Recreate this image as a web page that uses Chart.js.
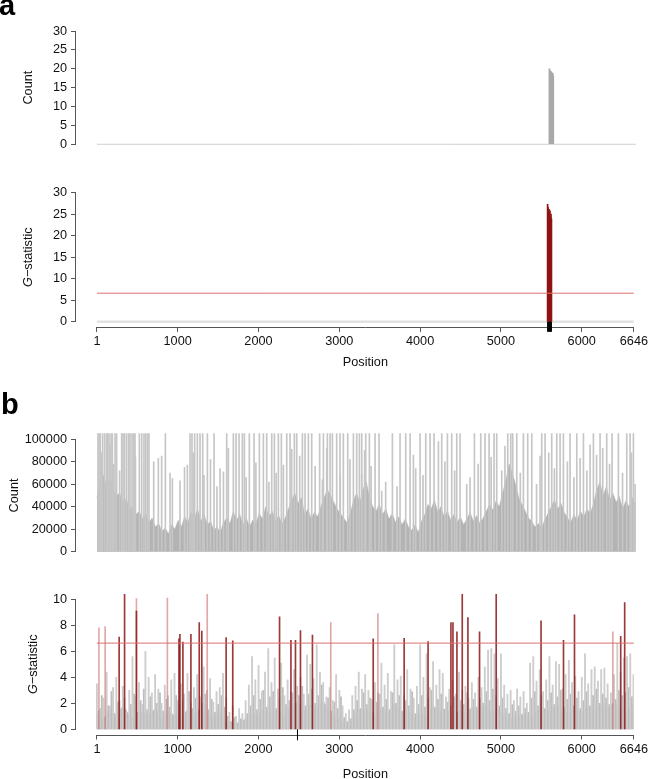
<!DOCTYPE html>
<html>
<head>
<meta charset="utf-8">
<script src="https://cdn.jsdelivr.net/npm/chart.js@4.4.1/dist/chart.umd.min.js"></script>
<style>
  html, body { margin: 0; padding: 0; background: #fff; }
  #wrap { position: relative; width: 650px; height: 779px; overflow: hidden; }
  canvas { position: absolute; left: 0; top: 0; }
  .tag { position: absolute; font: bold 29px 'Liberation Sans', Arial, sans-serif; line-height: 29px; color: #000; }
</style>
</head>
<body>
<div id="wrap">
  <canvas id="countA" width="650" height="779"></canvas>
  <canvas id="gA" width="650" height="779"></canvas>
  <canvas id="countB" width="650" height="779"></canvas>
  <canvas id="gB" width="650" height="779"></canvas>
  <div class="tag" style="left:-1px;top:-9px">a</div>
  <div class="tag" style="left:1px;top:390px">b</div>
</div>
<script>
// ---- shared ----
const posTicks = [1, 1000, 2000, 3000, 4000, 5000, 6000, 6646];
const posViewMin = -258;   // gap between y axis and position 1
const posEnd = 6646;
const gThreshold = 6.63;

// ---- panel a ----
const aYTicks = [0, 5, 10, 15, 20, 25, 30];
const aPos = [5578, 5584, 5590, 5596, 5602, 5608, 5614, 5620, 5626];
const aCount = [20.0, 19.6, 18.7, 19.3, 18.5, 19.0, 18.4, 18.8, 18.2];
const aG = [27.3, 26.6, 25.4, 26.1, 24.7, 25.8, 24.3, 25.0, 23.9];
const aRug = [5578, 5584, 5590, 5596, 5602, 5608, 5614, 5620, 5626];

// ---- panel b ----
const bCountTicks = [0, 20000, 40000, 60000, 80000, 100000];
const bGTicks = [0, 2, 4, 6, 8, 10];

// dense body of the count track, one value every 40 positions from 1
const bCountStep = 40;
const bCountBody = [
  48000, 62000, 68000, 58000, 66000, 55000, 50000, 52000, 44000, 47000,
  38000, 40000, 33000, 36000, 29000, 34000, 26000, 30000, 22000, 25000,
  18000, 21000, 16000, 24000, 20000, 28000, 22000, 31000, 26000, 35000,
  29000, 38000, 27000, 33000, 24000, 27000, 19000, 22000, 17000, 26000,
  30000, 25000, 36000, 28000, 33000, 24000, 30000, 22000, 28000, 25000,
  34000, 29000, 40000, 31000, 36000, 28000, 32000, 25000, 30000, 38000,
  46000, 52000, 43000, 48000, 33000, 38000, 29000, 35000, 31000, 40000,
  48000, 55000, 50000, 44000, 38000, 34000, 30000, 26000, 33000, 45000,
  52000, 44000, 56000, 62000, 48000, 40000, 36000, 42000, 33000, 38000,
  29000, 34000, 26000, 31000, 24000, 29000, 22000, 19000, 24000, 17000,
  27000, 33000, 42000, 38000, 46000, 35000, 40000, 31000, 36000, 28000,
  33000, 26000, 31000, 24000, 29000, 35000, 27000, 32000, 25000, 30000,
  36000, 42000, 37000, 45000, 40000, 52000, 63000, 78000, 70000, 60000,
  48000, 42000, 36000, 30000, 27000, 22000, 25000, 21000, 28000, 34000,
  40000, 46000, 38000, 43000, 35000, 30000, 26000, 33000, 28000, 36000,
  31000, 38000, 34000, 42000, 55000, 62000, 50000, 58000, 46000, 52000,
  44000, 49000, 38000, 45000, 40000, 48000, 42000
];
// single positions whose count runs off the top of the axis
const bCountTopPos = [
  13, 26, 42, 71, 96, 120, 133, 149, 174, 190, 223, 243, 305, 322, 342, 367, 392, 408,
  433, 453, 470, 523, 552, 580, 601, 622, 642, 844, 1148, 1172, 1205, 1238, 1271, 1304,
  1362, 1444, 1600, 1682, 1715, 1752, 1793, 1818, 1879, 1937, 2003, 2052, 2093, 2155,
  2188, 2237, 2274, 2340, 2381, 2434, 2463, 2533, 2566, 2607, 2648, 2746, 2792, 2841,
  2874, 2903, 2956, 2997, 3038, 3092, 3162, 3203, 3236, 3265, 3314, 3359, 3429, 3478,
  3643, 3737, 3807, 3861, 3984, 4054, 4107, 4156, 4251, 4321, 4374, 4436, 4477, 4654,
  4732, 4785, 4835, 4896, 4929, 5065, 5102, 5126, 5176, 5258, 5311, 5361, 5484, 5525,
  5607, 5669, 5710, 5751, 5833, 5916, 5998, 6121, 6203, 6285, 6351, 6429, 6532, 6573, 6614
];
const bCountTop = 120000;
// taller single positions that stay on the axis
const bCountMidPos = [55, 160, 205, 280, 475, 700, 757, 798, 901, 930, 1024, 1080, 1115, 1190,
  1320, 1400, 1480, 1518, 1560, 1620, 1840, 1960, 2120, 2210, 2299, 2401, 2500, 2690, 2780,
  2833, 3000, 3120, 3264, 3300, 3380, 3511, 3560, 3700, 3902, 3930, 4020, 4210, 4290, 4410,
  4559, 4600, 4700, 4860, 4991, 5030, 5220, 5420, 5463, 5570, 5640, 5800, 5880, 5957, 6040,
  6080, 6160, 6236, 6320, 6480, 6590, 6635];
const bCountMidVal = [88000, 95000, 78000, 72000, 84000, 80000, 83000, 85000, 70000, 65000, 63000, 75000, 77000, 88000,
  68000, 82000, 58000, 74000, 71000, 92000, 66000, 79000, 62000, 70000, 77000, 91000, 85000, 76000, 64000,
  92000, 68000, 82000, 69000, 90000, 76000, 54000, 62000, 58000, 86000, 74000, 68000, 98000, 80000, 72000,
  60000, 66000, 78000, 84000, 72000, 94000, 70000, 60000, 85000, 88000, 74000, 80000, 66000, 83000, 72000,
  95000, 86000, 92000, 78000, 70000, 88000, 60000];

// G-statistic background, one value every 40 positions from 1
const bGStep = 40;
const bGNoise = [
  3.5, 1.6, 2.4, 4.4, 1.8, 3.2, 4.0, 2.2, 3.3, 1.5,
  3.0, 5.6, 2.5, 3.6, 1.9, 6.0, 4.0, 2.8, 4.2, 3.1,
  2.0, 3.4, 2.6, 3.8, 4.3, 2.2, 3.5, 2.7, 4.3, 2.0,
  3.2, 4.2, 2.5, 4.8, 3.0, 3.9, 2.1, 2.9, 3.2, 4.3,
  2.4, 1.3, 1.8, 1.0, 1.6, 1.2, 2.2, 3.4, 5.6, 3.8,
  4.9, 2.9, 4.4, 6.2, 3.6, 5.5, 3.1, 5.1, 2.6, 3.8,
  2.9, 4.6, 3.3, 4.0, 2.7, 5.7, 5.0, 3.9, 6.5, 4.4,
  3.6, 2.5, 3.2, 2.2, 4.2, 3.0, 1.8, 1.2, 1.5, 2.6,
  3.3, 4.4, 3.1, 4.2, 3.0, 2.3, 3.6, 2.8, 5.1, 3.4,
  4.3, 2.9, 6.5, 3.8, 4.1, 2.6, 4.6, 3.1, 2.4, 3.3,
  6.5, 4.0, 5.8, 3.2, 5.2, 3.4, 4.6, 4.3, 2.5, 3.1,
  3.8, 2.7, 4.4, 3.0, 3.3, 2.4, 3.6, 2.8, 4.0, 3.2,
  4.8, 6.1, 6.2, 5.8, 3.9, 5.8, 3.4, 2.7, 3.0, 2.2,
  3.1, 2.5, 2.9, 2.0, 5.1, 5.6, 3.7, 4.6, 2.9, 3.8,
  5.6, 3.4, 5.2, 5.0, 3.1, 4.2, 5.3, 3.6, 4.1, 2.9,
  4.0, 5.8, 3.5, 4.6, 4.8, 3.7, 4.6, 4.7, 3.5, 2.8,
  4.2, 6.6, 4.4, 5.5, 5.6, 5.8, 4.2
];
// mid-height background, one value every 40 positions from 21
const bGMidStart = 21;
const bGMid = [
  1.4, 2.6, 0.9, 1.8, 2.9, 1.2, 2.1, 1.6, 2.4, 0.8,
  1.9, 2.7, 1.3, 2.2, 3.1, 1.5, 2.5, 1.1, 2.0, 2.8,
  1.4, 2.3, 1.7, 1.0, 2.6, 1.8, 2.2, 1.2, 2.9, 1.6,
  2.4, 1.1, 2.0, 2.7, 1.5, 2.3, 1.3, 1.9, 2.6, 1.7,
  1.0, 0.6, 0.9, 0.5, 0.8, 0.7, 1.2, 1.8, 2.6, 1.5,
  2.3, 3.0, 1.7, 2.5, 2.9, 1.6, 2.4, 3.2, 1.9, 2.2,
  2.8, 1.5, 2.6, 3.3, 1.8, 2.7, 3.1, 2.0, 2.6, 3.4,
  1.9, 2.4, 1.4, 2.1, 1.6, 2.5, 0.9, 0.6, 0.8, 1.5,
  2.2, 1.6, 2.8, 1.9, 2.4, 1.3, 2.1, 2.7, 1.7, 2.3,
  1.5, 2.8, 2.0, 2.6, 1.4, 2.2, 1.8, 2.9, 1.2, 1.9,
  2.6, 1.7, 2.4, 3.0, 1.6, 2.3, 2.7, 1.4, 2.1, 1.8,
  2.5, 1.3, 2.2, 1.9, 2.8, 1.5, 2.3, 1.7, 2.4, 2.0,
  2.9, 2.2, 3.1, 2.6, 1.8, 2.4, 1.6, 1.2, 1.9, 1.4,
  1.8, 1.1, 1.6, 1.3, 2.4, 2.9, 1.8, 2.6, 1.5, 2.2,
  2.8, 1.9, 2.5, 3.0, 1.7, 2.3, 2.7, 1.8, 2.4, 1.6,
  2.2, 2.9, 1.8, 2.6, 3.1, 2.0, 2.7, 2.4, 1.9, 1.5,
  2.3, 3.0, 2.6, 2.8, 3.2, 2.5, 2.1
];
// denser low band, one value every 80 positions from 1
const bGBaseStep = 80;
const bGBase = [
  1.2, 0.8, 1.5, 0.9, 1.8, 1.1, 0.7, 1.4, 1.0, 1.6, 0.8, 1.3, 1.1, 0.9,
  1.5, 1.0, 1.7, 1.2, 0.9, 1.4, 0.6, 0.4, 0.5, 0.8, 1.3, 1.1, 1.7, 1.2,
  1.5, 1.0, 1.8, 2.1, 1.4, 1.9, 1.6, 2.2, 1.3, 1.0, 0.6, 0.5, 1.2, 1.6,
  1.4, 1.1, 1.7, 1.3, 2.0, 1.2, 1.5, 0.9, 1.3, 1.1, 1.8, 1.4, 1.6, 1.0,
  1.4, 1.2, 1.7, 1.5, 1.9, 1.3, 1.6, 1.1, 0.8, 1.0, 1.2, 0.9, 1.4, 1.7,
  1.3, 1.9, 1.5, 1.2, 1.6, 1.3, 1.8, 1.4, 2.0, 1.6, 2.1, 1.7, 1.4, 1.9
];
// significant positions (dark) and faint ones
const bRedPos = [276, 343, 490, 1016, 1028, 1065, 1164, 1267, 1299, 1600, 1682, 2261, 2402, 2458,
  2520, 2668, 3420, 3803, 4099, 4382, 4407, 4456, 4522, 4592, 4736, 4942, 5497, 5775, 5911, 6483, 6532];
const bRedVal = [7.1, 10.6, 9.1, 6.95, 7.3, 6.7, 7.3, 8.2, 7.55, 7.05, 6.8, 8.65, 6.85, 6.85,
  7.6, 7.25, 6.95, 7.0, 6.75, 8.2, 8.2, 7.5, 10.6, 8.6, 7.5, 10.6, 8.35, 6.85, 8.8, 7.15, 9.75];
const bPinkPos = [26, 103, 490, 873, 1366, 2895, 3478, 6385];
const bPinkVal = [7.8, 7.9, 10.05, 10.1, 10.9, 8.2, 8.9, 7.5];
const bRug = [2483];

// ---- helpers ----
const FONT = { family: "'Liberation Sans', Arial, Helvetica, sans-serif", size: 12.7 };
const AXIS = '#555';
const INK = '#111';

const pts = (xs, ys) => xs.map((x, i) => ({ x: x, y: ys[i] }));
const stepped = (ys, step, start) => ys.map((y, i) => ({ x: (start || 1) + step * i, y: y }));
const flat = (xs, y) => xs.map(x => ({ x: x, y: y }));
const span = y => [{ x: 1, y: y }, { x: posEnd, y: y }];

function fixedTicks(values) {
  return function (scale) { scale.ticks = values.map(v => ({ value: v })); };
}

function xScale(show) {
  const s = {
    type: 'linear', min: posViewMin, max: posEnd, offset: false, display: show,
    afterBuildTicks: fixedTicks(posTicks),
    grid: { drawOnChartArea: false, tickLength: 5, color: AXIS, offset: false },
    border: { display: false },
    ticks: { autoSkip: false, maxRotation: 0, padding: 2, color: INK, font: FONT, callback: v => String(v) }
  };
  if (show) s.afterFit = function (sc) { sc.height = 44; };
  return s;
}

function yScale(min, max, ticks) {
  return {
    type: 'linear', min: min, max: max,
    afterBuildTicks: fixedTicks(ticks),
    afterFit: function (s) { s.width = 76; },
    grid: { drawOnChartArea: false, tickLength: 5, color: AXIS },
    border: { display: false },
    ticks: { autoSkip: false, padding: 4, color: INK, font: FONT, callback: v => String(v) }
  };
}

function bars(data, color, thick) {
  return { type: 'bar', data: data, backgroundColor: color, borderWidth: 0, barThickness: thick || 1, grouped: false };
}

function hline(data, color, width) {
  return { type: 'line', data: data, borderColor: color, borderWidth: width, pointRadius: 0, fill: false };
}

// R-like axes: lines only across the tick range, rotated titles, rug marks
const rAxes = {
  id: 'rAxes',
  afterDraw(chart, args, opts) {
    const { ctx, chartArea } = chart;
    const x = chart.scales.x, y = chart.scales.y;
    const y0 = y.getPixelForValue(opts.yTicks[0]);
    const y1 = y.getPixelForValue(opts.yTicks[opts.yTicks.length - 1]);
    ctx.save();
    ctx.strokeStyle = AXIS;
    ctx.lineWidth = 1;
    ctx.beginPath();
    const ax = Math.round(chartArea.left) - 0.5;
    ctx.moveTo(ax, y0);
    ctx.lineTo(ax, y1);
    if (opts.xAxis) {
      const ay = Math.round(chartArea.bottom) + 0.5;
      ctx.moveTo(x.getPixelForValue(posTicks[0]), ay);
      ctx.lineTo(x.getPixelForValue(posTicks[posTicks.length - 1]), ay);
    }
    ctx.stroke();

    if (opts.rug) {
      ctx.strokeStyle = '#000';
      ctx.beginPath();
      const base = y.getPixelForValue(0);
      opts.rug.forEach(function (p) {
        const px = x.getPixelForValue(p);
        ctx.moveTo(px, base);
        ctx.lineTo(px, base + opts.rugLen);
      });
      ctx.stroke();
    }

    ctx.fillStyle = INK;
    if (opts.xTitle) {
      ctx.font = FONT.size + 'px ' + FONT.family;
      ctx.textAlign = 'center';
      ctx.textBaseline = 'middle';
      const cx = (x.getPixelForValue(1) + x.getPixelForValue(posEnd)) / 2;
      ctx.fillText(opts.xTitle, cx, chartArea.bottom + opts.xTitleDy);
    }

    // y title, may mix italic and upright parts
    ctx.translate(opts.titleX, (y0 + y1) / 2);
    ctx.rotate(-Math.PI / 2);
    ctx.textAlign = 'left';
    ctx.textBaseline = 'middle';
    let total = 0;
    opts.title.forEach(function (p) {
      ctx.font = (p.italic ? 'italic ' : '') + FONT.size + 'px ' + FONT.family;
      total += ctx.measureText(p.text).width;
    });
    let cx = -total / 2;
    opts.title.forEach(function (p) {
      ctx.font = (p.italic ? 'italic ' : '') + FONT.size + 'px ' + FONT.family;
      ctx.fillText(p.text, cx, 0);
      cx += ctx.measureText(p.text).width;
    });
    ctx.restore();
  }
};

const base = {
  responsive: false,
  animation: false,
  events: [],
};

document.addEventListener('DOMContentLoaded', function () {

    // a: count
    const countACtx = document.getElementById('countA').getContext('2d');
    const countAChart = new Chart(countACtx, {
        type: 'bar',
        data: {
            datasets: [
                bars(pts(aPos, aCount), '#a9a9a9'),
                hline(span(0), '#cfcfcf', 1)
            ]
        },
        options: Object.assign({}, base, {
            layout: { padding: { top: 26.5, bottom: 630.2, left: 0, right: 14 } },
            scales: { x: xScale(false), y: yScale(-1.2, 31.2, aYTicks) },
            plugins: {
                legend: { display: false }, tooltip: { enabled: false },
                rAxes: { yTicks: aYTicks, title: [{ text: 'Count' }], titleX: 28.3 }
            }
        }),
        plugins: [rAxes]
    });

    // a: G-statistic
    const gACtx = document.getElementById('gA').getContext('2d');
    const gAChart = new Chart(gACtx, {
        type: 'bar',
        data: {
            datasets: [
                hline(span(gThreshold), '#dc7070', 1),
                bars(pts(aPos, aG), '#8e1414'),
                hline(span(0), '#e2e2e2', 2.5)
            ]
        },
        options: Object.assign({}, base, {
            layout: { padding: { top: 187.5, bottom: 408.1, left: 0, right: 14 } },
            scales: { x: xScale(true), y: yScale(-1.2, 31.2, aYTicks) },
            plugins: {
                legend: { display: false }, tooltip: { enabled: false },
                rAxes: {
                    yTicks: aYTicks, title: [{ text: 'G', italic: true }, { text: '\u2212statistic' }], titleX: 28,
                    xAxis: true, xTitle: 'Position', xTitleDy: 35.4, rug: aRug, rugLen: 10
                }
            }
        }),
        plugins: [rAxes]
    });

    // b: count
    const countBCtx = document.getElementById('countB').getContext('2d');
    const countBChart = new Chart(countBCtx, {
        type: 'bar',
        data: {
            datasets: [
                bars(flat(bCountTopPos, bCountTop), '#c6c6c6'),
                bars(pts(bCountMidPos, bCountMidVal), '#c6c6c6'),
                {
                    type: 'line',
                    data: stepped(bCountBody, bCountStep),
                    borderColor: '#b3b3b3', borderWidth: 0.5, backgroundColor: '#b3b3b3',
                    fill: 'origin', pointRadius: 0, tension: 0
                }
            ]
        },
        options: Object.assign({}, base, {
            layout: { padding: { top: 433.3, bottom: 222.6, left: 0, right: 14 } },
            scales: { x: xScale(false), y: yScale(-4200, 105300, bCountTicks) },
            plugins: {
                legend: { display: false }, tooltip: { enabled: false },
                rAxes: { yTicks: bCountTicks, title: [{ text: 'Count' }], titleX: 14.3 }
            }
        }),
        plugins: [rAxes]
    });

    // b: G-statistic
    const gBCtx = document.getElementById('gB').getContext('2d');
    const gBChart = new Chart(gBCtx, {
        type: 'bar',
        data: {
            datasets: [
                hline(span(gThreshold), '#dc7070', 1),
                bars(pts(bRedPos, bRedVal), 'rgba(140,22,22,0.85)'),
                bars(pts(bPinkPos, bPinkVal), 'rgba(205,110,110,0.6)'),
                bars(stepped(bGNoise, bGStep), '#cdcdcd', 1.2),
                bars(stepped(bGMid, bGStep, bGMidStart), '#bdbdbd', 1.2),
                {
                    type: 'line',
                    data: stepped(bGBase, bGBaseStep),
                    borderColor: '#b9b9b9', borderWidth: 0.5, backgroundColor: '#b9b9b9',
                    fill: 'origin', pointRadius: 0, tension: 0
                }
            ]
        },
        options: Object.assign({}, base, {
            layout: { padding: { top: 594.1, bottom: 0.5, left: 0, right: 14 } },
            scales: { x: xScale(true), y: yScale(-0.4, 10.4, bGTicks) },
            plugins: {
                legend: { display: false }, tooltip: { enabled: false },
                rAxes: {
                    yTicks: bGTicks, title: [{ text: 'G', italic: true }, { text: '\u2212statistic' }], titleX: 33.3,
                    xAxis: true, xTitle: 'Position', xTitleDy: 39.5, rug: bRug, rugLen: 11
                }
            }
        }),
        plugins: [rAxes]
    });
});
</script>
</body>
</html>
